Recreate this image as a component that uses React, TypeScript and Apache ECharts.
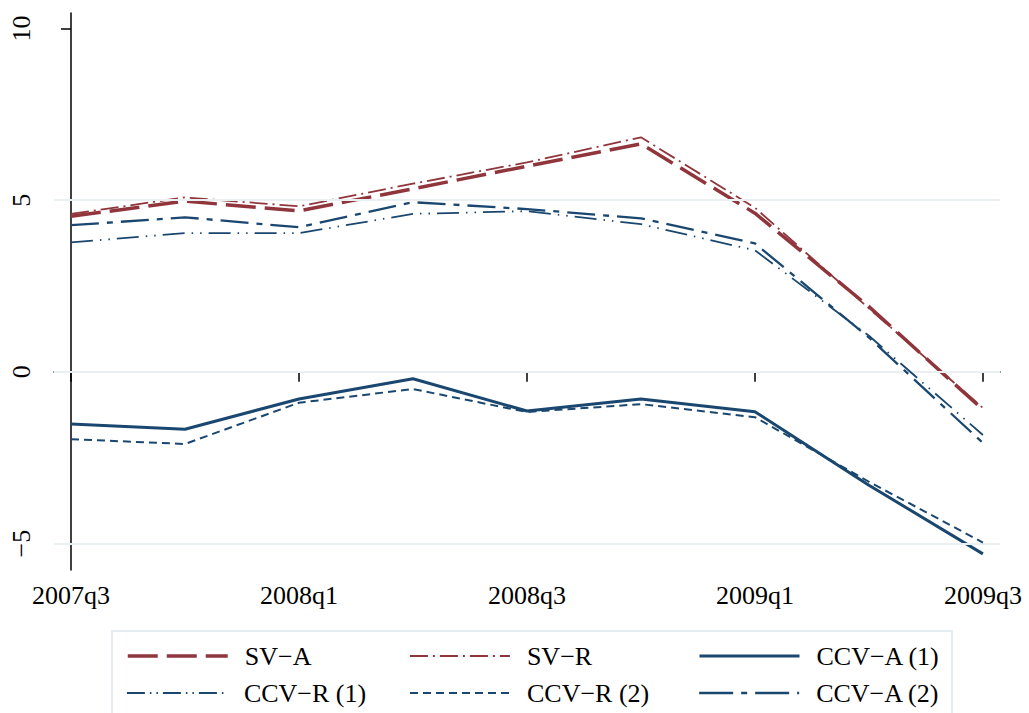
import React, { useEffect, useRef } from "react";
import * as echarts from "echarts";

const quarters = ["2007q3", "2007q4", "2008q1", "2008q2", "2008q3", "2008q4", "2009q1", "2009q2", "2009q3"];
const labelledQuarters = [0, 2, 4, 6, 8];
const yTicks = [-5, 0, 5, 10];
const gridValues = [-5, 0, 5];

const names = ["SV\u2212A", "SV\u2212R", "CCV\u2212A (1)", "CCV\u2212R (1)", "CCV\u2212R (2)", "CCV\u2212A (2)"];
const svA = [4.53, 4.97, 4.69, 5.33, 5.99, 6.64, 4.62, 1.9, -1.1];
const svR = [4.6, 5.08, 4.82, 5.48, 6.1, 6.83, 4.78, 1.85, -1.05];
const ccvA1 = [-1.52, -1.67, -0.79, -0.2, -1.14, -0.79, -1.16, -3.3, -5.3];
const ccvR1 = [3.77, 4.04, 4.04, 4.6, 4.68, 4.3, 3.54, 1.05, -1.84];
const ccvR2 = [-1.96, -2.1, -0.9, -0.5, -1.17, -0.94, -1.32, -3.2, -4.97];
const ccvA2 = [4.27, 4.5, 4.21, 4.94, 4.74, 4.47, 3.74, 1.0, -2.07];

const RED = "#90353b";
const BLUE = "#1a476f";
const FONT = "Liberation Serif";

export default function App() {
  const ref = useRef<HTMLDivElement>(null);
  useEffect(() => {
    if (!ref.current) return;
    const chart = echarts.init(ref.current, undefined, { renderer: "svg" });
    const toData = (arr: number[]) => quarters.map((_, i) => [i, arr[i]]);
    const styles: any[] = [
      { data: svA, color: RED, width: 3.5, type: [30, 9], legendType: [30, 9] },
      { data: svR, color: RED, width: 1.8, type: [18, 5, 2, 5], legendType: [18, 5, 2, 5] },
      { data: ccvA1, color: BLUE, width: 3, type: "solid", legendType: "solid" },
      { data: ccvR1, color: BLUE, width: 1.8, type: [22, 7, 1.5, 7, 1.5, 7], legendType: [18, 5, 1.5, 5, 1.5, 5] },
      { data: ccvR2, color: BLUE, width: 2, type: [8, 5], legendType: [8, 5] },
      { data: ccvA2, color: BLUE, width: 2.3, type: [28, 8, 6, 8], legendType: [34, 8, 6, 8] },
    ];
    const series: any[] = [
      {
        type: "line",
        name: "grid",
        data: [],
        z: 0,
        silent: true,
        markLine: {
          silent: true,
          symbol: ["none", "none"],
          label: { show: false },
          lineStyle: { color: "#eaf0f2", width: 2, type: "solid" },
          data: gridValues.map((v) => ({ yAxis: v })),
        },
      },
      ...styles.map((s, i) => ({
        type: "line",
        name: names[i],
        data: toData(s.data),
        symbol: "none",
        showSymbol: false,
        z: 2 + i,
        lineStyle: { color: s.color, width: s.width, type: s.type, cap: "butt", join: "round" },
        itemStyle: { color: s.color },
      })),
    ];
    const legendPos = [
      { left: 126, top: 643 },
      { left: 409, top: 643 },
      { left: 698, top: 643 },
      { left: 126, top: 680 },
      { left: 409, top: 680 },
      { left: 698, top: 680 },
    ];
    const legends = names.map((n, i) => ({
      data: [n],
      left: legendPos[i].left,
      top: legendPos[i].top,
      padding: 0,
      itemWidth: 100,
      itemHeight: 14,
      selectedMode: false,
      itemStyle: { color: "rgba(0,0,0,0)", borderColor: "rgba(0,0,0,0)", borderWidth: 0, opacity: 0 },
      lineStyle: { color: styles[i].color, width: styles[i].width, type: styles[i].legendType, cap: "butt" },
      textStyle: { fontFamily: FONT, fontSize: 26, color: "#000", lineHeight: 26, padding: [0, 0, 0, 12] },
    }));
    chart.setOption({
      animation: false,
      backgroundColor: "#fff",
      grid: { left: 54, right: 29, top: 13, bottom: 143, containLabel: false },
      xAxis: {
        type: "value",
        min: -0.149,
        max: 8.15,
        axisLine: { show: true, lineStyle: { color: "#000", width: 1.5 } },
        axisTick: { show: true, length: 10, customValues: labelledQuarters, lineStyle: { color: "#000", width: 1.5 } },
        axisLabel: {
          customValues: labelledQuarters,
          formatter: (v: number) => quarters[Math.round(v)],
          fontFamily: FONT,
          fontSize: 26,
          color: "#000",
          margin: 12,
        },
        splitLine: { show: false },
      },
      yAxis: {
        type: "value",
        min: -5.77,
        max: 10.45,
        axisLine: { show: true, lineStyle: { color: "#000", width: 1.5 } },
        axisTick: { show: true, length: 10, customValues: yTicks, lineStyle: { color: "#000", width: 1.5 } },
        axisLabel: {
          customValues: yTicks,
          formatter: (v: number) => (v < 0 ? "\u2212" + Math.abs(v) : String(v)),
          fontFamily: FONT,
          fontSize: 26,
          color: "#000",
          rotate: 90,
          margin: 20,
        },
        splitLine: { show: false },
      },
      legend: legends,
      graphic: [
        {
          type: "rect",
          shape: { x: 112, y: 631, width: 840, height: 100 },
          style: { fill: "none", stroke: "#e4ecef", lineWidth: 2 },
          silent: true,
        },
      ],
      series,
    });
    return () => chart.dispose();
  }, []);
  return <div ref={ref} style={{ width: 1029, height: 713, position: "absolute", left: 0, top: 0 }} />;
}
